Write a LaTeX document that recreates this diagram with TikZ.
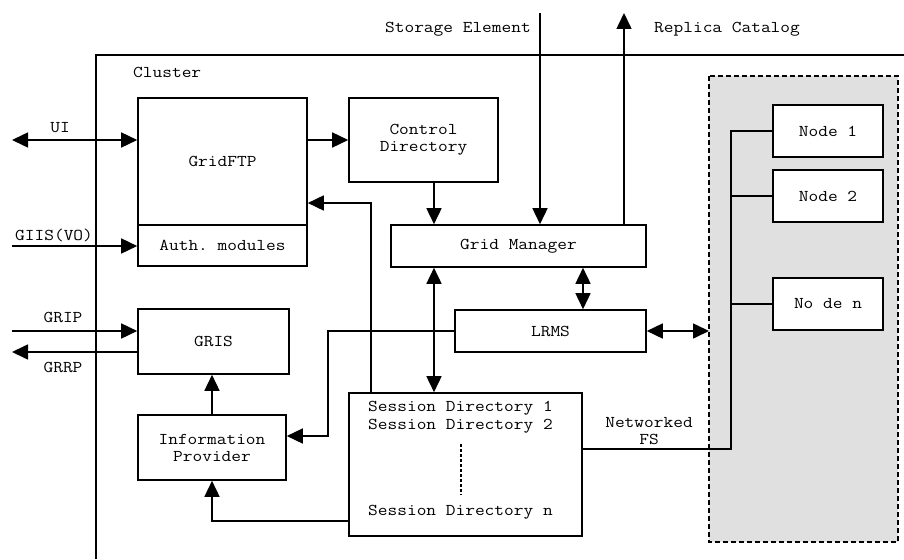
\documentclass[tikz,border=0pt]{standalone}
\usepackage{fontspec}
\setmonofont[FakeStretch=1.143]{Latin Modern Mono}
\usetikzlibrary{arrows.meta}
\begin{document}
\begin{tikzpicture}[x=1pt,y=-1pt,
  font=\ttfamily\fontsize{16.5}{17}\selectfont,
  box/.style={draw, line width=1.6pt, fill=white, inner sep=0pt, align=center},
  lbl/.style={inner sep=0pt, align=center},
  wire/.style={line width=1.6pt},
  tip/.tip={Triangle[length=16pt,width=15pt]},
  arr/.style={line width=1.6pt, -tip},
  darr/.style={line width=1.6pt, tip-tip},
  nodebox/.style={box, minimum width=110pt, minimum height=52pt}]
\useasboundingbox (0,0) rectangle (904,559);

% cluster frame
\draw[line width=1.4pt] (96,559) -- (96,55) -- (904,55);
\node[lbl, anchor=west] (cluster) at (133,72) {Cluster};

% worker node area
\draw[line width=1.8pt, dash pattern=on 5pt off 3pt, fill=black!12] (709,76) rectangle (898,542);
\node[nodebox] (n1) at (828,131) {Node 1};
\node[nodebox] (n2) at (828,196) {Node 2};
\node[nodebox] (nn) at (828,304) {No de n};
\coordinate (pool) at (709,331);

% service boxes
\node[box, minimum width=169pt, minimum height=127pt] (ftp) at (222.5,161.5) {GridFTP};
\node[box, minimum width=169pt, minimum height=41pt] (auth) at (222.5,245.5) {Auth. modules};
\node[box, minimum width=149pt, minimum height=84pt] (ctrl) at (423.5,140) {Control\\Directory};
\node[box, minimum width=255pt, minimum height=42pt] (gm) at (518.5,246) {Grid Manager};
\node[box, minimum width=191pt, minimum height=42pt] (lrms) at (550.5,331) {LRMS};
\node[box, minimum width=151pt, minimum height=65pt] (gris) at (213.5,341.5) {GRIS};
\node[box, minimum width=148pt, minimum height=65pt] (info) at (212,447.5) {Information\\Provider};
\node[box, minimum width=233pt, minimum height=143pt] (sess) at (465.5,464.5) {};
\node[lbl, anchor=west] (s1) at (368,408) {Session Directory 1};
\node[lbl, anchor=west] (s2) at (368,426) {Session Directory 2};
\node[lbl, anchor=west] (sn) at (368,512) {Session Directory n};
\coordinate (dotA) at (461,444);
\coordinate (dotB) at (461,495);
\draw[line width=1.3pt, dash pattern=on 3pt off 2pt] (dotA) -- (dotB);

% outside endpoints
\coordinate (ui) at (12,140);
\coordinate (giis) at (12,246);
\coordinate (grip) at (12,331);
\coordinate (grrp) at (12,352);
\coordinate (se) at (540,13);
\coordinate (rc) at (624,13);

% external labels
\node[lbl] (uil) at (60,128) {UI};
\node[lbl, anchor=west] (giisl) at (15,235) {GIIS(VO)};
\node[lbl] (gripl) at (63,317) {GRIP};
\node[lbl] (grrpl) at (63,367) {GRRP};
\node[lbl, anchor=east] (sel) at (531,29) {Storage Element};
\node[lbl, anchor=west] (rcl) at (654,29) {Replica Catalog};
\node[lbl] (nfs) at (649,431) {Networked\\FS};

% connectors
\draw[darr] (ui) -- (ui -| ftp.west);
\draw[arr] (giis) -- (giis -| auth.west);
\draw[arr] (grip) -- (grip -| gris.west);
\draw[arr] (grrp -| gris.west) -- (grrp);
\draw[arr] (ftp.east |- ui) -- (ctrl.west |- ui);
\draw[arr] (ctrl.south -| 434,0) -- (gm.north -| 434,0);
\draw[arr] (se) -- (se |- gm.north);
\draw[arr] (gm.north -| rc) -- (rc);
\draw[darr] (gm.south -| 434,0) -- (sess.north -| 434,0);
\draw[darr] (gm.south -| 583,0) -- (lrms.north -| 583,0);
\draw[darr] (lrms.east) -- (lrms.east -| pool);
\draw[arr] (sess.north -| 371,0) -- (371,203) -- (ftp.east |- 0,203);
\draw[arr] (lrms.west) -- (lrms.west -| 328,0) -- (328,436) -- (info.east |- 0,436);
\draw[arr] (info.north) -- (gris.south -| info.north);
\draw[arr] (sess.west |- 0,521) -- (info.south |- 0,521) -- (info.south);

% shared file system and node bus
\coordinate (busTop) at (731,131);
\coordinate (busBot) at (731,449);
\draw[wire] (sess.east |- busBot) -- (busBot) -- (busTop) -- (n1.west);
\draw[wire] (busTop |- n2.west) -- (n2.west);
\draw[wire] (busTop |- nn.west) -- (nn.west);
\end{tikzpicture}
\end{document}
